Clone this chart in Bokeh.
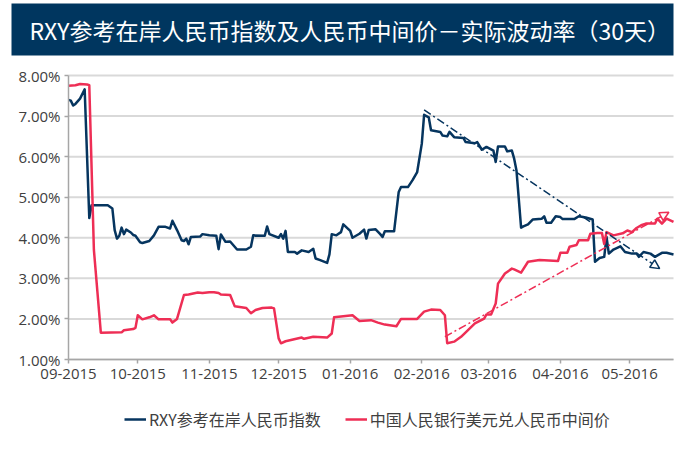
import pandas as pd
from bokeh.plotting import figure
from bokeh.models import (Range1d, FixedTicker, DatetimeTickFormatter, PrintfTickFormatter,
                          Legend, LegendItem, Arrow, NormalHead, Label, BoxAnnotation)
from bokeh.embed import file_html
from bokeh.resources import INLINE

TITLE = "RXY参考在岸人民币指数及人民币中间价－实际波动率（30天）"
NAME_RXY = "RXY参考在岸人民币指数"
NAME_CNY = "中国人民银行美元兑人民币中间价"

month_ticks = ["2015-09-01", "2015-10-01", "2015-11-01", "2015-12-01", "2016-01-01",
               "2016-02-01", "2016-03-01", "2016-04-01", "2016-05-01"]
x_start, x_end = "2015-09-01", "2016-05-20"
y_ticks = [1, 2, 3, 4, 5, 6, 7, 8]

rxy_dates = ["2015-09-01", "2015-09-02", "2015-09-03", "2015-09-04", "2015-09-06", "2015-09-08",
             "2015-09-10", "2015-09-11", "2015-09-18", "2015-09-20", "2015-09-21", "2015-09-22",
             "2015-09-23", "2015-09-24", "2015-09-25", "2015-09-26", "2015-09-28", "2015-09-29",
             "2015-09-30", "2015-10-02", "2015-10-03", "2015-10-06", "2015-10-08", "2015-10-10",
             "2015-10-13", "2015-10-15", "2015-10-16", "2015-10-18", "2015-10-20", "2015-10-21",
             "2015-10-22", "2015-10-23", "2015-10-24", "2015-10-28", "2015-10-29", "2015-11-01",
             "2015-11-04", "2015-11-05", "2015-11-06", "2015-11-08", "2015-11-10", "2015-11-13",
             "2015-11-17", "2015-11-19", "2015-11-20", "2015-11-25", "2015-11-26", "2015-11-27",
             "2015-12-01", "2015-12-02", "2015-12-03", "2015-12-04", "2015-12-05", "2015-12-08",
             "2015-12-09", "2015-12-11", "2015-12-14", "2015-12-16", "2015-12-17", "2015-12-19",
             "2015-12-22", "2015-12-23", "2015-12-24", "2015-12-26", "2015-12-28", "2015-12-29",
             "2016-01-01", "2016-01-02", "2016-01-05", "2016-01-07", "2016-01-08", "2016-01-09",
             "2016-01-12", "2016-01-14", "2016-01-15", "2016-01-16", "2016-01-20", "2016-01-22",
             "2016-01-23", "2016-01-26", "2016-01-28", "2016-01-30", "2016-02-01", "2016-02-02",
             "2016-02-04", "2016-02-05", "2016-02-09", "2016-02-10", "2016-02-12", "2016-02-13",
             "2016-02-15", "2016-02-19", "2016-02-20", "2016-02-24", "2016-02-25", "2016-02-27",
             "2016-02-29", "2016-03-03", "2016-03-04", "2016-03-05", "2016-03-08", "2016-03-09",
             "2016-03-11", "2016-03-12", "2016-03-13", "2016-03-15", "2016-03-16", "2016-03-18",
             "2016-03-20", "2016-03-24", "2016-03-25", "2016-03-26", "2016-03-28", "2016-03-30",
             "2016-04-01", "2016-04-02", "2016-04-07", "2016-04-09", "2016-04-12", "2016-04-15",
             "2016-04-16", "2016-04-18", "2016-04-20", "2016-04-21", "2016-04-22", "2016-04-24",
             "2016-04-27", "2016-04-29", "2016-05-02", "2016-05-04", "2016-05-05", "2016-05-07",
             "2016-05-10", "2016-05-12", "2016-05-15", "2016-05-17", "2016-05-20"]
rxy_vals = [7.40, 7.38, 7.26, 7.30, 7.43, 7.66,
            4.49, 4.80, 4.80, 4.72, 4.19, 3.98,
            4.05, 4.25, 4.09, 4.20, 4.13, 4.07,
            4.05, 3.89, 3.87, 3.92, 4.06, 4.27,
            4.27, 4.23, 4.42, 4.19, 3.94, 3.92,
            3.98, 3.84, 4.02, 4.03, 4.09, 4.06,
            4.05, 3.72, 4.08, 3.90, 3.91, 3.71,
            3.71, 3.78, 4.06, 4.05, 4.28, 4.09,
            4.00, 4.09, 3.98, 4.17, 3.65, 3.65,
            3.61, 3.69, 3.65, 3.73, 3.49, 3.45,
            3.38, 3.59, 4.09, 4.06, 4.14, 4.33,
            4.17, 4.00, 4.10, 4.20, 3.98, 4.19,
            4.21, 4.09, 4.02, 4.16, 4.16, 5.13,
            5.25, 5.25, 5.42, 5.62, 6.32, 7.03,
            6.97, 6.65, 6.61, 6.52, 6.50, 6.61,
            6.48, 6.46, 6.36, 6.33, 6.36, 6.17,
            6.24, 6.15, 5.87, 6.25, 6.25, 6.13,
            6.15, 5.95, 5.66, 4.25, 4.28, 4.33,
            4.45, 4.47, 4.53, 4.37, 4.37, 4.53,
            4.51, 4.46, 4.46, 4.53, 4.50, 4.45,
            3.41, 3.50, 3.53, 4.02, 3.61, 3.71,
            3.79, 3.65, 3.61, 3.61, 3.53, 3.65,
            3.61, 3.53, 3.63, 3.63, 3.59]

cny_dates = ["2015-09-01", "2015-09-04", "2015-09-06", "2015-09-09", "2015-09-10", "2015-09-12",
             "2015-09-15", "2015-09-24", "2015-09-25", "2015-09-29", "2015-09-30", "2015-10-01",
             "2015-10-03", "2015-10-06", "2015-10-08", "2015-10-10", "2015-10-15", "2015-10-16",
             "2015-10-18", "2015-10-21", "2015-10-23", "2015-10-27", "2015-10-29", "2015-11-01",
             "2015-11-03", "2015-11-05", "2015-11-06", "2015-11-10", "2015-11-12", "2015-11-17",
             "2015-11-19", "2015-11-21", "2015-11-24", "2015-11-28", "2015-11-29", "2015-12-01",
             "2015-12-02", "2015-12-04", "2015-12-11", "2015-12-12", "2015-12-16", "2015-12-22",
             "2015-12-24", "2015-12-25", "2015-12-31", "2016-01-02", "2016-01-05", "2016-01-10",
             "2016-01-13", "2016-01-16", "2016-01-21", "2016-01-23", "2016-01-30", "2016-02-02",
             "2016-02-05", "2016-02-09", "2016-02-11", "2016-02-12", "2016-02-15", "2016-02-18",
             "2016-02-24", "2016-02-28", "2016-02-29", "2016-03-02", "2016-03-04", "2016-03-05",
             "2016-03-08", "2016-03-11", "2016-03-12", "2016-03-15", "2016-03-18", "2016-03-23",
             "2016-03-31", "2016-04-01", "2016-04-04", "2016-04-05", "2016-04-08", "2016-04-09",
             "2016-04-13", "2016-04-14", "2016-04-17", "2016-04-19", "2016-04-20", "2016-04-21",
             "2016-04-24", "2016-04-28", "2016-04-30", "2016-05-02", "2016-05-04", "2016-05-06",
             "2016-05-08", "2016-05-12", "2016-05-13", "2016-05-15", "2016-05-17", "2016-05-20"]
cny_vals = [7.75, 7.76, 7.79, 7.78, 7.76, 3.70,
            1.66, 1.67, 1.72, 1.75, 1.78, 2.09,
            1.99, 2.04, 2.09, 1.99, 1.99, 1.91,
            2.00, 2.59, 2.60, 2.65, 2.64, 2.66,
            2.66, 2.64, 2.60, 2.59, 2.31, 2.27,
            2.14, 2.22, 2.27, 2.28, 2.26, 1.52,
            1.40, 1.45, 1.54, 1.51, 1.56, 1.54,
            1.64, 2.04, 2.08, 2.09, 1.95, 1.97,
            1.91, 1.86, 1.82, 2.00, 2.00, 2.18,
            2.23, 2.22, 2.09, 1.40, 1.44, 1.56,
            1.89, 2.01, 2.11, 2.11, 2.38, 2.87,
            3.12, 3.24, 3.22, 3.14, 3.41, 3.45,
            3.43, 3.63, 3.63, 3.78, 3.82, 3.94,
            3.94, 4.10, 4.12, 4.12, 3.85, 4.14,
            4.06, 4.11, 4.18, 4.14, 4.24, 4.31,
            4.35, 4.35, 4.47, 4.35, 4.47, 4.39]

# trend lines (start, end)
rxy_trend_dates = ["2016-02-02", "2016-05-14"]
rxy_trend_vals = [7.15, 3.24]
cny_trend_dates = ["2016-02-11", "2016-05-18"]
cny_trend_vals = [1.56, 4.63]

NAVY = "#06355F"
RED = "#EE2E55"
BOX = "#00365F"
GRID = "#D9D9D9"
AXIS = "#A6A6A6"

# ---- layout (pixels on the canvas) ----
W, H = 680, 460
PL, PR, PT, PB = 68, 673, 75, 359   # where the data area sits


def ms(t):
    return float(pd.Timestamp(t).value // 10**6)


xs, xe = ms(x_start), ms(x_end)
ppms = (PR - PL) / (xe - xs)                              # px per millisecond
ppu = (PB - PT) / (y_ticks[-1] - y_ticks[0])              # px per unit
x_range = Range1d(xs - PL / ppms, xe + (W - PR) / ppms)
y_range = Range1d(y_ticks[0] - (H - PB) / ppu, y_ticks[-1] + PT / ppu)

rd = [ms(d) for d in rxy_dates]
cd = [ms(d) for d in cny_dates]

p = figure(width=W, height=H, x_axis_type="datetime", toolbar_location=None,
           output_backend="svg", x_range=x_range, y_range=y_range, min_border=0)
p.outline_line_color = None
p.background_fill_color = "white"
p.border_fill_color = "white"
p.xgrid.visible = False
p.ygrid.visible = False

# horizontal grid lines over the data span only
p.segment(x0=[xs] * len(y_ticks), x1=[xe] * len(y_ticks), y0=y_ticks, y1=y_ticks,
          line_color=GRID, line_width=2, level="underlay")

p.yaxis.ticker = FixedTicker(ticks=y_ticks)
p.yaxis.formatter = PrintfTickFormatter(format="%.2f%%")
p.yaxis.bounds = (y_ticks[0], y_ticks[-1])
p.yaxis.fixed_location = xs
p.xaxis.ticker = FixedTicker(ticks=[ms(t) for t in month_ticks])
p.xaxis.bounds = (xs, xe)
p.xaxis.fixed_location = float(y_ticks[0])
fmt = "%m-%Y"
p.xaxis.formatter = DatetimeTickFormatter(microseconds=fmt, milliseconds=fmt, seconds=fmt,
                                          minsec=fmt, minutes=fmt, hourmin=fmt, hours=fmt,
                                          days=fmt, months=fmt, years=fmt)
for ax in (p.xaxis, p.yaxis):
    ax.axis_line_color = AXIS
    ax.axis_line_width = 1.5
    ax.major_tick_line_color = AXIS
    ax.major_tick_line_width = 1.5
    ax.major_tick_out = 4
    ax.major_tick_in = 0
    ax.minor_tick_line_color = None
    ax.major_label_text_font = "Open Sans"
    ax.major_label_text_font_size = "15px"
    ax.major_label_text_color = "#404040"
p.yaxis.major_label_standoff = 4
p.xaxis.major_label_standoff = 5

# title banner (screen px inside the canvas, y measured from the bottom)
p.add_layout(BoxAnnotation(left=11, right=673, top=H - 3, bottom=H - 55,
                           left_units="screen", right_units="screen",
                           top_units="screen", bottom_units="screen",
                           fill_color=BOX, fill_alpha=1, line_color=None))
p.add_layout(Label(x=29, y=H - 29.5, x_units="screen", y_units="screen", text=TITLE,
                   text_color="white", text_font="Noto Sans CJK SC", text_font_size="23px",
                   text_baseline="middle"))

r1 = p.line(rd, rxy_vals, line_color=NAVY, line_width=2.5, line_join="round")
r2 = p.line(cd, cny_vals, line_color=RED, line_width=2.5, line_join="round")

for dts, vals, col in ((rxy_trend_dates, rxy_trend_vals, NAVY), (cny_trend_dates, cny_trend_vals, RED)):
    p.add_layout(Arrow(x_start=ms(dts[0]), y_start=vals[0], x_end=ms(dts[1]), y_end=vals[1],
                       line_color=col, line_width=1.5, line_dash="8 3 2 3",
                       end=NormalHead(size=9, line_color=col, line_width=1.5, fill_color="white")))

legend = Legend(items=[LegendItem(label=NAME_RXY, renderers=[r1]),
                       LegendItem(label=NAME_CNY, renderers=[r2])],
                orientation="horizontal", location=(124, 29),
                label_text_font="Noto Sans CJK SC", label_text_font_size="16px",
                label_text_color="#404040", border_line_color=None, background_fill_alpha=0,
                glyph_width=22, label_standoff=3, spacing=24, margin=0, padding=3)
p.add_layout(legend)

open("out.html", "w").write(file_html(p, INLINE))
